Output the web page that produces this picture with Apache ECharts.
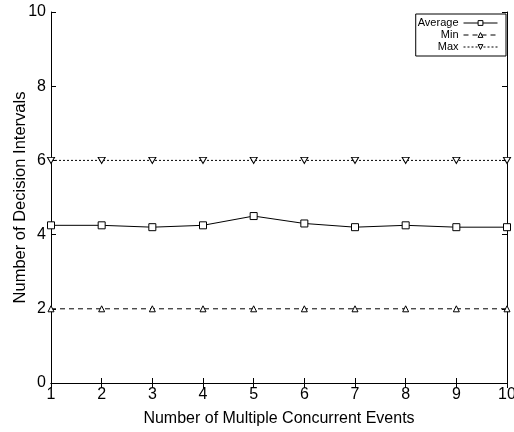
<!DOCTYPE html>
<html><head><meta charset="utf-8">
<script src="https://cdn.jsdelivr.net/npm/echarts@6/dist/echarts.min.js"></script>
<style>html,body{margin:0;padding:0;background:#fff}#c{width:514px;height:432px}</style>
</head><body><div id="c"></div>
<script>
var xValues = [1,2,3,4,5,6,7,8,9,10];
var avgValues = [4.25,4.25,4.2,4.25,4.5,4.3,4.2,4.25,4.2,4.2];
var minValues = [2,2,2,2,2,2,2,2,2,2];
var maxValues = [6,6,6,6,6,6,6,6,6,6];
var seriesNames = ['Average','Min','Max'];
var xTitle = 'Number of Multiple Concurrent Events';
var yTitle = 'Number of Decision Intervals';

function pairs(v){return xValues.map(function(x,i){return [x,v[i]];});}
var font = 'Liberation Sans, Arial, Helvetica, sans-serif';
var triDown = 'path://M0,0 L10,0 L5,9 Z';
var chart = echarts.init(document.getElementById('c'));
var axisCommon = {
  axisLine:{show:true,lineStyle:{color:'#000',width:1}},
  axisTick:{show:true,inside:true,length:5,lineStyle:{color:'#000'}},
  splitLine:{show:false}
};
chart.setOption({
  animation:false,
  backgroundColor:'#fff',
  textStyle:{fontFamily:font},
  grid:{left:51,right:7,top:12,bottom:49,outerBoundsMode:'none',containLabel:false},
  legend:{
    data:seriesNames, orient:'vertical', right:8, top:14, align:'right',
    itemWidth:34, itemHeight:6, itemGap:0, padding:[3,8,3,2],
    backgroundColor:'#fff', borderColor:'#000', borderWidth:1, borderRadius:0,
    lineStyle:{width:1},
    itemStyle:{borderWidth:1},
    textStyle:{fontFamily:font,fontSize:11,lineHeight:12,color:'#000'}
  },
  xAxis:[
    Object.assign({type:'value',min:1,max:10,interval:1,position:'bottom',
      name:xTitle,nameLocation:'middle',nameGap:28,
      nameTextStyle:{fontSize:16,color:'#000',fontFamily:font},
      axisLabel:{fontSize:16,color:'#000',margin:4,fontFamily:font}},axisCommon),
    Object.assign({type:'value',min:1,max:10,interval:1,position:'top',
      axisLabel:{show:false}},axisCommon)
  ],
  yAxis:[
    Object.assign({type:'value',min:0,max:10,interval:2,position:'left',
      name:yTitle,nameLocation:'middle',nameGap:22,nameMoveOverlap:false,
      nameTextStyle:{fontSize:16.5,color:'#000',fontFamily:font},
      axisLabel:{fontSize:16,color:'#000',margin:5,fontFamily:font}},axisCommon),
    Object.assign({type:'value',min:0,max:10,interval:2,position:'right',
      axisLabel:{show:false}},axisCommon)
  ],
  series:[
    {name:seriesNames[0],type:'line',data:pairs(avgValues),symbol:'rect',symbolSize:7,
      lineStyle:{color:'#000',width:1,type:'solid'},
      itemStyle:{color:'#fff',borderColor:'#000',borderWidth:1}},
    {name:seriesNames[1],type:'line',data:pairs(minValues),symbol:'triangle',symbolSize:6,
      lineStyle:{color:'#000',width:1,type:[5,4]},
      itemStyle:{color:'#fff',borderColor:'#000',borderWidth:1}},
    {name:seriesNames[2],type:'line',data:pairs(maxValues),symbol:triDown,symbolSize:[7,6],
      lineStyle:{color:'#000',width:1,type:[2,2]},
      itemStyle:{color:'#fff',borderColor:'#000',borderWidth:1}}
  ]
});
</script></body></html>
